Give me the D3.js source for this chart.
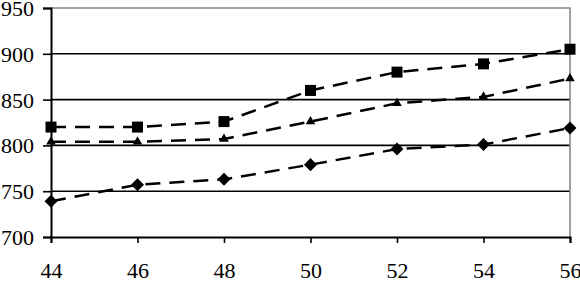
<!DOCTYPE html>
<html>
<head>
<meta charset="utf-8">
<script src="https://cdn.jsdelivr.net/npm/d3@7"></script>
<style>
body { margin: 0; background: #fff; }
svg { display: block; }
text { font-family: "Liberation Serif", "Times New Roman", serif; font-size: 22px; fill: #000; }
</style>
</head>
<body>
<svg id="chart" width="580" height="281"></svg>
<script>
var xValues = [44, 46, 48, 50, 52, 54, 56];
var squareSeries = [820, 820, 826, 860, 880, 889, 905];
var triangleSeries = [804, 804, 807, 826, 846, 853, 873];
var diamondSeries = [739, 757, 763, 779, 796, 801, 819];
var yTicks = [700, 750, 800, 850, 900, 950];

var svg = d3.select('#chart');
var margin = {left: 51, right: 10, top: 8, bottom: 44};
var width = 580 - margin.left - margin.right;
var height = 281 - margin.top - margin.bottom;

var x = d3.scaleLinear().domain([44, 56]).range([0, width]);
var y = d3.scaleLinear().domain([700, 950]).range([height, 0]);

var g = svg.append('g').attr('transform', 'translate(' + margin.left + ',' + margin.top + ')');

// grid lines
g.selectAll('line.grid')
	.data(yTicks.filter(function(d) { return d > 700 && d < 950; }))
	.enter().append('line')
	.attr('class', 'grid')
	.attr('x1', 0).attr('x2', width)
	.attr('y1', function(d) { return y(d); })
	.attr('y2', function(d) { return y(d); })
	.attr('stroke', '#000').attr('stroke-width', 1.6);

// plot area border (top, right)
g.append('path')
	.attr('d', 'M0,' + y(950) + 'H' + width + 'V' + height)
	.attr('fill', 'none').attr('stroke', '#888').attr('stroke-width', 1.6);

var yAxis = g.append('g')
	.call(d3.axisLeft(y).tickValues(yTicks).tickSize(8).tickPadding(9));
var xAxis = g.append('g')
	.attr('transform', 'translate(0,' + height + ')')
	.call(d3.axisBottom(x).tickValues(xValues).tickSize(6).tickPadding(19));

[yAxis, xAxis].forEach(function(a) {
	a.select('.domain').attr('stroke', '#000').attr('stroke-width', 2);
	a.selectAll('.tick line').attr('stroke', '#000').attr('stroke-width', 1.6);
	a.selectAll('text').attr('font-family', null).attr('font-size', null).attr('fill', '#000');
});
yAxis.selectAll('.tick text').attr('dy', '0.34em');

var line = d3.line()
	.x(function(d, i) { return x(xValues[i]); })
	.y(function(d) { return y(d); });

var series = [
	{values: squareSeries, symbol: d3.symbolSquare, size: 121, rotate: 0},
	{values: triangleSeries, symbol: d3.symbolTriangle, size: 40, rotate: 0},
	{values: diamondSeries, symbol: d3.symbolSquare, size: 85, rotate: 45}
];

series.forEach(function(s) {
	g.append('path')
		.datum(s.values)
		.attr('d', line)
		.attr('fill', 'none')
		.attr('stroke', '#000')
		.attr('stroke-width', 2.5)
		.attr('stroke-dasharray', '15,9');
	g.selectAll(null)
		.data(s.values)
		.enter().append('path')
		.attr('d', d3.symbol().type(s.symbol).size(s.size))
		.attr('transform', function(d, i) {
			return 'translate(' + x(xValues[i]) + ',' + y(d) + ') rotate(' + s.rotate + ')';
		})
		.attr('fill', '#000');
});
</script>
</body>
</html>
